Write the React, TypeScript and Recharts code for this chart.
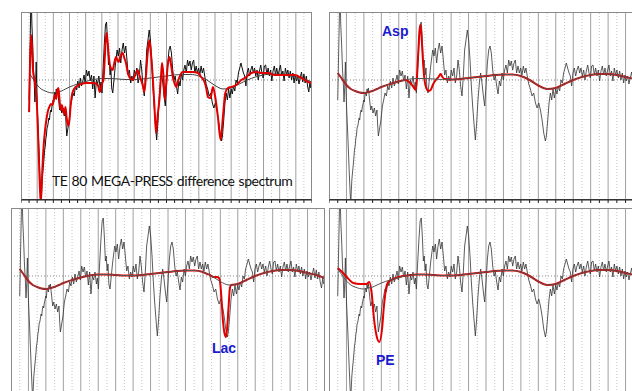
import React from 'react';
import { LineChart, Line, XAxis, YAxis, ReferenceLine } from 'recharts';

// x axis: chemical shift (ppm), reversed; y axis: arbitrary units
const majorTicks = [3.6, 3.4, 3.2, 3.0, 2.8, 2.6, 2.4, 2.2, 2.0, 1.8, 1.6, 1.4, 1.2, 1.0, 0.8, 0.6, 0.4];
const minorTicks = [3.7, 3.5, 3.3, 3.1, 2.9, 2.7, 2.5, 2.3, 2.1, 1.9, 1.7, 1.5, 1.3, 1.1, 0.9, 0.7, 0.5, 0.3];

const spectrum: [number, number][] = [
  [3.700,-20],[3.690,25],[3.680,68],[3.672,78],[3.665,55],[3.655,35],[3.645,10],[3.635,-5],[3.628,-22],[3.620,-8],
  [3.612,18],[3.605,-10],[3.598,-28],[3.588,-48],[3.578,-70],[3.568,-92],[3.558,-112],[3.550,-125],[3.545,-112],[3.538,-100],
  [3.530,-92],[3.522,-85],[3.515,-78],[3.508,-70],[3.500,-66],[3.492,-58],[3.485,-55],[3.478,-48],[3.470,-46],[3.462,-42],
  [3.455,-38],[3.448,-40],[3.440,-33],[3.432,-30],[3.425,-32],[3.418,-27],[3.410,-24],[3.402,-20],[3.395,-22],[3.388,-15],
  [3.380,-12],[3.372,-16],[3.364,-9],[3.357,-12],[3.349,-8],[3.334,-20],[3.322,-30],[3.311,-26],[3.295,-33],[3.280,-28],
  [3.265,-36],[3.250,-30],[3.242,-45],[3.234,-56],[3.219,-48],[3.204,-40],[3.188,-26],[3.173,-20],[3.158,-13],[3.142,-16],
  [3.127,-6],[3.112,-10],[3.097,-1],[3.081,-8],[3.066,2],[3.051,-6],[3.035,-1],[3.020,5],[3.005,-4],[2.990,10],
  [2.974,4],[2.959,9],[2.944,-1],[2.928,5],[2.913,-9],[2.898,4],[2.883,-18],[2.867,0],[2.852,-4],[2.837,4],
  [2.821,-8],[2.810,-2],[2.798,-13],[2.785,10],[2.770,35],[2.755,55],[2.742,58],[2.730,40],[2.718,15],[2.708,20],
  [2.698,5],[2.688,12],[2.678,-8],[2.665,-13],[2.650,0],[2.634,14],[2.611,30],[2.596,24],[2.581,32],[2.566,17],
  [2.550,30],[2.535,37],[2.520,27],[2.504,34],[2.489,20],[2.474,5],[2.459,10],[2.443,-3],[2.428,4],[2.413,-1],
  [2.398,10],[2.382,4],[2.367,12],[2.352,-3],[2.336,4],[2.321,20],[2.306,10],[2.291,-6],[2.275,-16],[2.260,4],
  [2.245,30],[2.229,40],[2.214,50],[2.199,40],[2.183,20],[2.168,-6],[2.153,-26],[2.138,-43],[2.122,-60],[2.107,-43],
  [2.092,-20],[2.076,-3],[2.061,7],[2.046,-3],[2.030,-16],[2.015,-26],[2.000,-6],[1.984,17],[1.969,30],[1.954,34],
  [1.939,27],[1.923,10],[1.908,0],[1.893,4],[1.877,-6],[1.862,-14],[1.847,-1],[1.832,-6],[1.816,7],[1.801,0],
  [1.786,10],[1.771,15],[1.755,7],[1.740,20],[1.725,14],[1.710,19],[1.694,10],[1.679,17],[1.664,20],[1.649,7],
  [1.633,14],[1.618,7],[1.603,12],[1.588,5],[1.572,14],[1.557,7],[1.542,12],[1.527,4],[1.510,-4],[1.491,-9],
  [1.472,-16],[1.453,-13],[1.433,-23],[1.414,-28],[1.395,-23],[1.376,-30],[1.357,-40],[1.338,-53],[1.319,-61],[1.308,-56],
  [1.292,-40],[1.277,-23],[1.262,-13],[1.247,-20],[1.232,-9],[1.216,-18],[1.201,-9],[1.186,-14],[1.171,-6],[1.155,-11],
  [1.140,0],[1.125,-3],[1.110,7],[1.094,12],[1.079,17],[1.064,12],[1.048,7],[1.033,4],[1.018,-6],[1.003,7],
  [0.987,12],[0.972,4],[0.957,10],[0.941,14],[0.926,7],[0.911,12],[0.896,4],[0.880,10],[0.865,0],[0.850,9],
  [0.834,15],[0.819,7],[0.804,2],[0.789,14],[0.773,15],[0.758,5],[0.743,12],[0.727,4],[0.712,10],[0.697,-1],
  [0.682,9],[0.666,14],[0.651,5],[0.636,12],[0.621,4],[0.605,10],[0.590,15],[0.575,4],[0.560,9],[0.545,-1],
  [0.529,12],[0.514,5],[0.499,10],[0.483,2],[0.468,9],[0.453,0],[0.437,7],[0.422,-3],[0.407,5],[0.392,-1],
  [0.376,4],[0.361,-4],[0.346,2],[0.330,8],[0.315,-2],[0.300,6],[0.285,-3],[0.270,4],[0.255,-6],[0.240,-12],
  [0.225,-2],[0.215,-8],
];

const baseline: [number, number][] = [
  [3.70,7],[3.65,1],[3.60,-5],[3.55,-9],[3.50,-11],[3.45,-12.5],[3.40,-13],[3.35,-12],[3.30,-11],[3.25,-9],
  [3.20,-7],[3.10,-4],[3.00,-1.5],[2.90,0.5],[2.80,1.5],[2.70,1.5],[2.60,1],[2.50,0.5],[2.40,0.5],[2.30,1],
  [2.20,2],[2.10,3],[2.00,4],[1.90,5],[1.80,5.5],[1.70,5.5],[1.60,4],[1.50,0],[1.40,-5.5],[1.30,-9],
  [1.20,-8],[1.10,-4],[1.00,0],[0.90,3],[0.80,5],[0.70,6],[0.60,6],[0.50,5],[0.40,3],[0.30,1],[0.20,-2],
];

const fullFit: [number, number][] = [
  [3.700,-32],[3.690,10],[3.675,45],[3.665,35],[3.650,8],[3.640,3],[3.630,0],[3.620,-8],[3.605,-22],[3.590,-52],
  [3.575,-88],[3.562,-115],[3.555,-122],[3.548,-112],[3.535,-88],[3.520,-66],[3.505,-52],[3.490,-42],[3.470,-32],[3.450,-27],
  [3.430,-24],[3.410,-25],[3.395,-20],[3.380,-15],[3.365,-19],[3.350,-10],[3.337,-8],[3.325,-18],[3.310,-30],[3.295,-25],
  [3.280,-30],[3.265,-34],[3.250,-27],[3.235,-38],[3.215,-46],[3.200,-40],[3.185,-25],[3.170,-15],[3.150,-10],[3.120,-7],
  [3.090,-5],[3.050,-4],[3.000,-3],[2.950,-3],[2.900,-3],[2.850,-5],[2.825,-12],[2.810,-8],[2.795,-3],[2.780,0],
  [2.765,20],[2.752,40],[2.741,47],[2.728,38],[2.715,25],[2.700,15],[2.688,12],[2.667,10],[2.646,17],[2.625,23],
  [2.609,20],[2.593,18],[2.568,24],[2.543,27],[2.522,22],[2.501,17],[2.481,8],[2.460,3],[2.439,1],[2.419,0],
  [2.398,3],[2.377,7],[2.357,10],[2.336,5],[2.315,0],[2.295,-5],[2.274,-12],[2.253,5],[2.233,27],[2.212,40],
  [2.191,25],[2.170,3],[2.150,-25],[2.129,-53],[2.109,-35],[2.088,-20],[2.067,5],[2.055,17],[2.038,5],[2.022,-20],
  [2.005,-5],[1.984,15],[1.964,23],[1.943,15],[1.922,3],[1.902,-3],[1.881,-7],[1.860,-2],[1.840,3],[1.798,8],
  [1.736,8],[1.674,8],[1.612,7],[1.571,3],[1.530,-2],[1.509,-8],[1.488,-17],[1.455,-18],[1.426,-7],[1.397,-17],
  [1.364,-37],[1.331,-60],[1.302,-37],[1.273,-13],[1.240,-8],[1.199,-7],[1.137,-5],[1.075,0],[1.013,3],[0.950,7],
  [0.888,8],[0.826,7],[0.744,7],[0.661,5],[0.537,5],[0.413,5],[0.330,2],[0.248,-2],[0.206,-3],
];

const aspWindow: [number, number][] = [
  [2.920,0],[2.880,-2],[2.840,-6],[2.805,-10],[2.790,5],[2.775,30],[2.762,50],[2.750,55],[2.738,42],[2.722,18],
  [2.705,0],[2.685,-8],[2.660,-11],[2.635,-10],[2.605,-4],[2.575,0],[2.545,3],[2.520,6],[2.500,3],[2.475,1],
];
const lacWindow: [number, number][] = [
  [1.550,2],[1.520,1],[1.480,-1],[1.440,-1],[1.415,-2],[1.400,-8],[1.385,-25],[1.370,-45],[1.355,-56],[1.335,-61],
  [1.320,-50],[1.305,-30],[1.290,-12],[1.275,-9],
];
const peWindow: [number, number][] = [
  [3.700,8],[3.650,4],[3.597,-1],[3.520,-7],[3.444,-8],[3.368,-8],[3.338,-6],[3.311,-17],[3.284,-43],[3.254,-60],
  [3.223,-66],[3.192,-53],[3.170,-30],[3.147,-13],[3.120,-6],[3.063,-3],[2.950,0],
];

const toRows = (pts: [number, number][]) => pts.map(([x, v]) => ({ x, v }));
const withWindow = (win: [number, number][]) => {
  const hi = win[0][0];
  const lo = win[win.length - 1][0];
  return toRows([
    ...baseline.filter(([x]) => x > hi),
    ...win,
    ...baseline.filter(([x]) => x < lo),
  ]);
};

const spectrumRows = toRows(spectrum);
const baselineRows = toRows(baseline);
const allTicks = [...majorTicks, ...minorTicks, 3.8, 0.2].sort((a, b) => a - b);

const PLOT_H = 188;
const AXIS_H = 4;

type PanelProps = {
  left: number;
  top: number;
  width: number;
  fit: { x: number; v: number }[];
  first?: boolean;
};

function Panel({ left, top, width, fit, first }: PanelProps) {
  return (
    <div style={{ position: 'absolute', left, top, width, height: PLOT_H + AXIS_H }}>
      <LineChart width={width} height={PLOT_H + AXIS_H} margin={{ top: 0, right: 0, bottom: 0, left: 0 }}>
        <XAxis
          type="number"
          dataKey="x"
          domain={[0.2, 3.8]}
          reversed
          allowDataOverflow
          ticks={allTicks}
          interval={0}
          tickFormatter={() => ''}
          tickSize={3}
          height={AXIS_H}
          stroke="#222"
        />
        <YAxis type="number" dataKey="v" domain={[-120, 68]} hide allowDataOverflow />
        {minorTicks.map((t) => (
          <ReferenceLine key={'m' + t} x={t} stroke="#c4c4c4" strokeDasharray="1 2" />
        ))}
        {majorTicks.map((t) => (
          <ReferenceLine key={'M' + t} x={t} stroke="#a0a0a0" />
        ))}
        <ReferenceLine y={0} stroke="#888" strokeDasharray="1 2" />
        <Line
          data={spectrumRows}
          dataKey="v"
          type="linear"
          stroke={first ? '#111' : '#333'}
          strokeWidth={first ? 1 : 0.8}
          dot={false}
          isAnimationActive={false}
        />
        {first ? (
          <Line data={baselineRows} dataKey="v" type="monotone" stroke="#444" strokeWidth={1} dot={false} isAnimationActive={false} />
        ) : null}
        <Line data={fit} dataKey="v" type="monotone" stroke="#e00000" strokeWidth={2} dot={false} isAnimationActive={false} />
        {!first ? (
          <Line data={baselineRows} dataKey="v" type="monotone" stroke="#555" strokeWidth={1} dot={false} isAnimationActive={false} />
        ) : null}
      </LineChart>
      <div
        style={{
          position: 'absolute',
          left: 0,
          top: 0,
          width,
          height: PLOT_H,
          boxSizing: 'border-box',
          border: '1px solid #8a8a8a',
          borderBottom: '1px solid #333',
          pointerEvents: 'none',
        }}
      />
    </div>
  );
}

const labelStyle: React.CSSProperties = {
  position: 'absolute',
  fontFamily: '"Liberation Sans", Arial, sans-serif',
  fontWeight: 'bold',
  fontSize: 14,
  color: '#1a1ad0',
  lineHeight: 'normal',
  whiteSpace: 'nowrap',
};

export default function App() {
  return (
    <div style={{ position: 'absolute', left: 0, top: 0, width: 632, height: 391, overflow: 'hidden', background: '#fff' }}>
      <Panel left={21} top={12} width={291} fit={toRows(fullFit)} first />
      <Panel left={329} top={12} width={314} fit={withWindow(aspWindow)} />
      <Panel left={11} top={208} width={314} fit={withWindow(lacWindow)} />
      <Panel left={329} top={208} width={314} fit={withWindow(peWindow)} />
      <div
        style={{
          position: 'absolute',
          left: 52,
          top: 172,
          fontFamily: 'Lato, "Open Sans", sans-serif',
          fontSize: 14,
          letterSpacing: -0.45,
          color: '#111',
          whiteSpace: 'nowrap',
          lineHeight: 'normal',
          wordSpacing: 1,
        }}
      >
        TE 80 MEGA-PRESS difference spectrum
      </div>
      <div style={{ ...labelStyle, left: 382, top: 23 }}>Asp</div>
      <div style={{ ...labelStyle, left: 212, top: 340 }}>Lac</div>
      <div style={{ ...labelStyle, left: 376, top: 352 }}>PE</div>
    </div>
  );
}
